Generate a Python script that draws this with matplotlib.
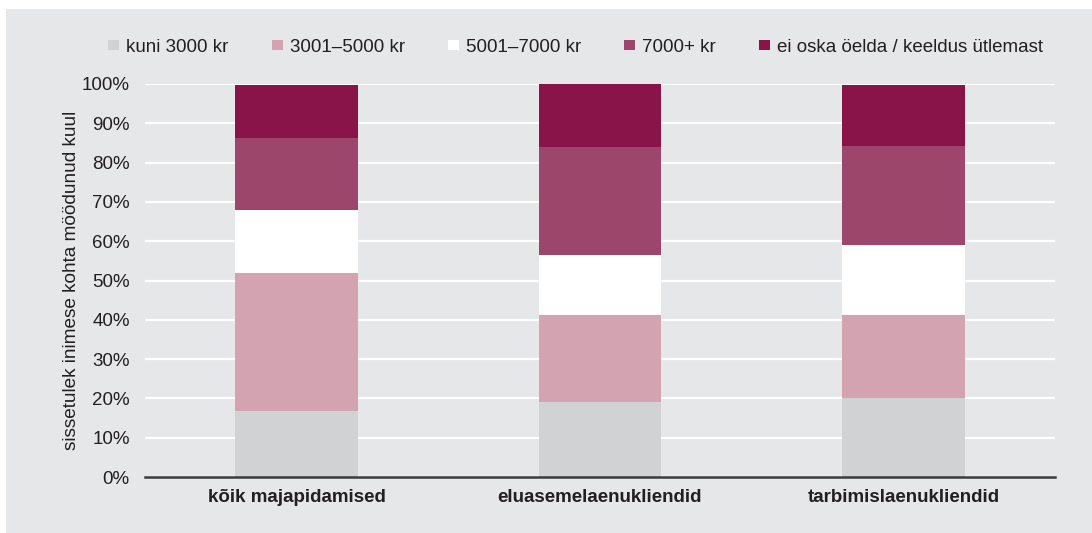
import numpy as np
import matplotlib
matplotlib.use('Agg')
import matplotlib.pyplot as plt
from matplotlib.patches import Rectangle, Patch

plt.rcParams['font.family'] = ['Liberation Sans', 'DejaVu Sans']

# kategooriad ja osakaalud (%)
groups = ['kõik majapidamised', 'eluasemelaenukliendid', 'tarbimislaenukliendid']
series_names = ['kuni 3000 kr', '3001–5000 kr', '5001–7000 kr', '7000+ kr',
                'ei oska öelda / keeldus ütlemast']
upto_3000 = [16.9, 19.1, 20.1]
from_3001_5000 = [35.1, 22.1, 21.1]
from_5001_7000 = [15.9, 15.3, 17.8]
over_7000 = [18.4, 27.5, 25.2]
no_answer = [13.5, 16.0, 15.5]
y_ticks = [0, 10, 20, 30, 40, 50, 60, 70, 80, 90, 100]
y_label = 'sissetulek inimese kohta möödunud kuul'

colors = ['#d1d2d4', '#d4a3b2', '#ffffff', '#9d466b', '#88144a']
bg = '#e6e7e8'
txt = '#231f20'

W, H = 1092, 533
fig = plt.figure(figsize=(W / 100, H / 100), dpi=100)
fig.patch.set_facecolor('white')
# hall taust
fig.patches.append(Rectangle((6 / W, 0), 1 - 6 / W, 1 - 9 / H, transform=fig.transFigure,
                             facecolor=bg, edgecolor='none', zorder=-10))

ax = fig.add_axes([145 / W, (H - 477) / H, (1055 - 145) / W, (477 - 84) / H])
ax.set_facecolor(bg)

x = np.arange(len(groups))
bottom = np.zeros(len(groups))
for vals, col, name in zip([upto_3000, from_3001_5000, from_5001_7000, over_7000, no_answer],
                           colors, series_names):
    ax.bar(x, vals, width=0.405, bottom=bottom, color=col, label=name, zorder=3)
    bottom += np.array(vals)

ax.set_xlim(-0.5, 2.5)
ax.set_ylim(0, 100)
ax.set_yticks(y_ticks)
ax.set_yticklabels([f'{t}%' for t in y_ticks], fontsize=13.5, color=txt)
ax.set_xticks(x)
ax.set_xticklabels(groups, fontsize=13.5, fontweight='bold', color=txt)
ax.tick_params(axis='y', length=0, pad=11)
ax.tick_params(axis='x', length=0, pad=9)
ax.grid(axis='y', color='white', linewidth=1.6, zorder=1)
ax.set_axisbelow(True)
for s in ['top', 'right', 'left']:
    ax.spines[s].set_visible(False)
ax.spines['bottom'].set_color('#3a3a3c')
ax.spines['bottom'].set_linewidth(1.8)
ax.spines['bottom'].set_zorder(4)

ax.set_ylabel(y_label, fontsize=13.7, color=txt, labelpad=1)

handles = [Patch(facecolor=c, edgecolor='none') for c in colors]
fig.legend(handles, series_names, loc='center', bbox_to_anchor=(575.5 / W, 1 - 47 / H),
           ncol=5, frameon=False, fontsize=13.5, handlelength=0.59, handleheight=0.45,
           handletextpad=0.37, columnspacing=2.3, labelcolor=txt)

fig.savefig('out.png', dpi=100, facecolor=fig.get_facecolor())
